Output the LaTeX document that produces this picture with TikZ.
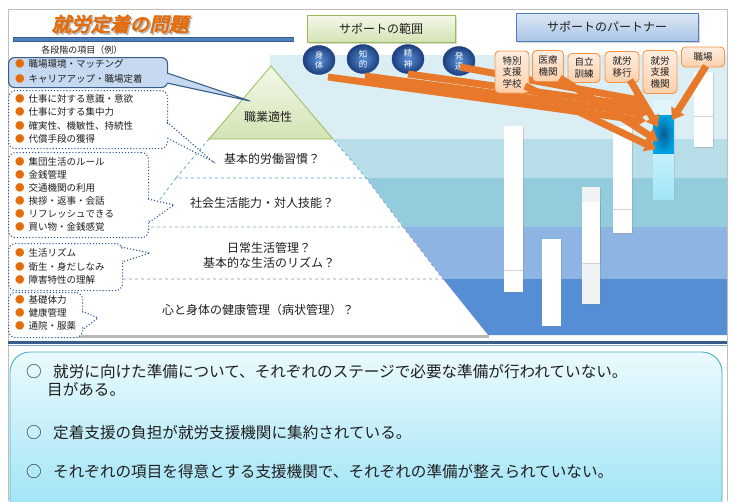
\documentclass[tikz,border=0pt]{standalone}
\usepackage{fontspec}
\setmainfont{Noto Sans CJK JP}
\newfontfamily\titlefont[FakeBold=4,FakeSlant=0.22]{Noto Sans CJK JP}
\usetikzlibrary{arrows.meta,shapes.geometric,shadows}
\definecolor{txt}{HTML}{202020}
\definecolor{ttlorange}{HTML}{E46C0A}
\definecolor{bul}{HTML}{E46C0A}
\definecolor{barblue}{HTML}{4F81BD}
\definecolor{bardark}{HTML}{385D8A}
\definecolor{boxone}{HTML}{C6D9F1}
\definecolor{dotc}{HTML}{2F5597}
\definecolor{bandA}{HTML}{DBEEF4}
\definecolor{bandB}{HTML}{B7DDE8}
\definecolor{bandC}{HTML}{93CDDD}
\definecolor{bandD}{HTML}{8EB4E3}
\definecolor{bandE}{HTML}{558ED5}
\definecolor{greenTop}{HTML}{F3F8E9}
\definecolor{greenBot}{HTML}{D3E3B3}
\definecolor{greenLine}{HTML}{9BBB59}
\definecolor{blueTop}{HTML}{DDE8F5}
\definecolor{blueBot}{HTML}{A9C4E8}
\definecolor{blueLine}{HTML}{4F81BD}
\definecolor{ballIn}{HTML}{5A8FD6}
\definecolor{ballOut}{HTML}{1C3F7E}
\definecolor{orTop}{HTML}{FDEDE0}
\definecolor{orBot}{HTML}{FBD0AC}
\definecolor{orLine}{HTML}{F79646}
\definecolor{arr}{HTML}{E8792A}
\definecolor{tgtIn}{HTML}{0A5C96}
\definecolor{tgtOut}{HTML}{00A2E2}
\definecolor{cyanA}{HTML}{E0F6FC}
\definecolor{cyanB}{HTML}{C5F1FB}
\definecolor{cyanC}{HTML}{A2E6F8}
\definecolor{sepA}{HTML}{4BACC6}
\definecolor{sepB}{HTML}{7F9FC8}
\definecolor{sepC}{HTML}{9C8AB8}
\definecolor{sumTop}{HTML}{EAFAFD}
\definecolor{sumBot}{HTML}{96E1F5}
\definecolor{sumLine}{HTML}{4BACC6}
\definecolor{colgray}{HTML}{F1F2F4}
\definecolor{frame}{HTML}{BFBFBF}
\newcommand\obul{{\color{bul}●}\hspace{4pt}}
\begin{document}
\begin{tikzpicture}[x=1pt,y=-1pt,
  every node/.style={inner sep=0pt, text=txt},
  pyt/.style={font=\fontsize{12}{15}\selectfont, align=center},
  lst/.style={anchor=west, align=left},
  cbox/.style={draw=dotc, dotted, line width=1.1pt, rounded corners=7pt, fill=white, anchor=north west},
  cboxone/.style={draw=bardark, line width=1.1pt, rounded corners=6pt, fill=boxone, anchor=north west},
  colbar/.style={fill=white, drop shadow={shadow xshift=1.2pt, shadow yshift=-1.2pt, opacity=0.3}},
  ball/.style={ellipse, minimum width=32pt, minimum height=29pt, inner color=ballIn, outer color=ballOut, draw=ballOut, line width=0.4pt, text=white, font=\fontsize{8.5}{10.5}\selectfont, align=center},
  pbox/.style={draw=orLine, line width=0.9pt, rounded corners=4pt, top color=orTop, bottom color=orBot, font=\fontsize{9.5}{11.5}\selectfont, align=center},
  oarr/.style={draw=arr, line width=7pt, -{Triangle[width=15pt,length=11pt]}},
  hdr/.style={font=\fontsize{12}{14}\selectfont, line width=0.8pt, drop shadow={shadow xshift=1.5pt, shadow yshift=-1.5pt, opacity=0.3}},
  sumtxt/.style={anchor=west, font=\fontsize{15.6}{18}\selectfont},
  dotwedge/.style={draw=dotc, dotted, line width=1.1pt},
]
\useasboundingbox (0,0) rectangle (734,501);
\fill[white] (0,0) rectangle (734,501);
\begin{scope}
\clip (0,0) rectangle (734,501);
% background bands
\fill[bandA] (270,55) -- (727,55) -- (727,139) -- (333,139) -- (271,66) -- (270,66) -- cycle;
\fill[bandB] (333,139) -- (727,139) -- (727,178) -- (366,178) -- cycle;
\fill[bandC] (366,178) -- (727,178) -- (727,227) -- (403,227) -- cycle;
\fill[bandD] (403,227) -- (727,227) -- (727,279) -- (443,279) -- cycle;
\fill[bandE] (443,279) -- (727,279) -- (727,335) -- (488,335) -- cycle;
% frame
\draw[frame, line width=1pt] (8,501) -- (8,9) -- (727,9) -- (727,501);
% columns
\path[colbar] (504,126) rectangle (523,292);
\draw[gray!35, line width=0.8pt] (504,270) -- (523,270);
\path[colbar] (542,239) rectangle (561,326);
\path[colbar, fill=colgray] (582,187) rectangle (600,304);
\path[colbar] (582,202) rectangle (600,263);
\path[colbar] (613,126) rectangle (632,233);
\draw[gray!35, line width=0.8pt] (613,209) -- (632,209);
\path[colbar] (694,72) rectangle (713,147);
\draw[gray!35, line width=0.8pt] (694,116) -- (713,116);
% target
\fill[cyanA] (653,100) rectangle (674,115);
\shade[top color=cyanB, bottom color=cyanC, drop shadow={shadow xshift=1pt, shadow yshift=-1pt, opacity=0.25}] (653,153) rectangle (674,199);
\node[minimum width=21pt, minimum height=38pt, inner color=tgtIn, outer color=tgtOut] (tgt) at (663.5,134) {};
% pyramid
\fill[white] (99,279) -- (443,279) -- (488,335) -- (54,335) -- cycle;
\fill[white] (139,227) -- (403,227) -- (443,279) -- (99,279) -- cycle;
\fill[white] (176,178) -- (366,178) -- (403,227) -- (139,227) -- cycle;
\fill[white] (209,139) -- (333,139) -- (366,178) -- (176,178) -- cycle;
\shade[top color=greenTop, bottom color=greenBot, draw=greenLine, line width=0.8pt] (271,66) -- (333,139) -- (209,139) -- cycle;
\draw[sepA, dashed, line width=0.7pt] (209,139) -- (176,178) -- (366,178) -- (333,139);
\draw[sepA, dashed, line width=0.7pt] (176,178) -- (139,227);
\draw[sepB, dashed, line width=0.7pt] (139,227) -- (403,227) -- (366,178);
\draw[sepC, dashed, line width=0.7pt] (99,279) -- (443,279) -- (403,227);
\draw[sepC, densely dotted, line width=0.6pt] (443,279) -- (488,335);
\draw[gray!55, line width=2.5pt] (54,336.5) -- (489,336.5);
\node[pyt] (t1) at (268,117) {職業適性};
\node[pyt] (t2) at (272,159) {基本的労働習慣？};
\node[pyt] (t3) at (262,203) {社会生活能力・対人技能？};
\node[pyt] (t4) at (269,255.5) {日常生活管理？\\基本的な生活のリズム？};
\node[pyt] (t5) at (258,310) {心と身体の健康管理（病状管理）？};
% left callouts
\node[cboxone, minimum width=159pt, minimum height=30pt] (b1) at (8,57) {};
\fill[boxone] (164,73) -- (250,101) -- (164,83) -- cycle;
\draw[bardark, line width=1.1pt] (167,73) -- (250,101) -- (167,83);
\node[lst, font=\fontsize{9.5}{15}\selectfont] (b1t) at (15,71.5) {\obul 職場環境・マッチング\\\obul キャリアアップ・職場定着};

\node[cbox, minimum width=159pt, minimum height=58pt] (b2) at (8,90) {};
\fill[white] (163,122) -- (212,161) -- (163,138) -- cycle;
\draw[dotwedge] (167,122) -- (212,161) -- (167,138);
\node[lst, font=\fontsize{9.5}{13.3}\selectfont] (b2t) at (15,119) {\obul 仕事に対する意識・意欲\\\obul 仕事に対する集中力\\\obul 確実性、機敏性、持続性\\\obul 代償手段の獲得};

\node[cbox, minimum width=140pt, minimum height=85pt] (b3) at (8,152) {};
\fill[white] (144,199) -- (174,205) -- (144,223) -- cycle;
\draw[dotwedge] (148,199) -- (174,205) -- (148,223);
\node[lst, font=\fontsize{9.5}{13}\selectfont] (b3t) at (15,194.5) {\obul 集団生活のルール\\\obul 金銭管理\\\obul 交通機関の利用\\\obul 挨拶・返事・会話\\\obul リフレッシュできる\\\obul 買い物・金銭感覚};

\node[cbox, minimum width=114pt, minimum height=47pt] (b4) at (8,243) {};
\fill[white] (117,248) -- (150,253) -- (117,262) -- cycle;
\draw[dotwedge] (121,247) -- (150,253) -- (122,262);
\node[lst, font=\fontsize{9.5}{13.5}\selectfont] (b4t) at (15,266.5) {\obul 生活リズム\\\obul 衛生・身だしなみ\\\obul 障害特性の理解};

\node[cbox, minimum width=74pt, minimum height=45pt] (b5) at (8,292) {};
\fill[white] (78,311) -- (98,318) -- (78,330) -- cycle;
\draw[dotwedge] (82,311) -- (98,318) -- (82,330);
\node[lst, font=\fontsize{9.5}{13}\selectfont] (b5t) at (15,313) {\obul 基礎体力\\\obul 健康管理\\\obul 通院・服薬};

% circles
\node[ball] (c1) at (319,60) {身\\体};
\node[ball] (c2) at (363,59) {知\\的};
\node[ball] (c3) at (408,59) {精\\神};
\node[ball] (c4) at (459,61) {発\\達};
% arrow ends
\coordinate (e1) at (646,121);
\coordinate (e2) at (648,114);
\coordinate (e3) at (646,107);
\coordinate (e4) at (644,101);
\coordinate (e5) at (656,149);
\coordinate (e6) at (658,141);
\coordinate (e7) at (658,127);
\coordinate (e8) at (672,120);
\draw[oarr] ([shift={(9,17)}]c1.center) -- (e1);
\draw[oarr] ([shift={(2,17)}]c2.center) -- (e2);
\draw[oarr] ([shift={(0,15)}]c3.center) -- (e3);
\draw[oarr] ([shift={(1,6)}]c4.center) -- (e4);
% partner boxes
\node[pbox, minimum width=34pt, minimum height=42pt] (p1) at (512,72) {特別\\支援\\学校};
\node[pbox, minimum width=31pt, minimum height=31pt] (p2) at (548,66) {医療\\機関};
\node[pbox, minimum width=32pt, minimum height=29pt] (p3) at (584,68) {自立\\訓練};
\node[pbox, minimum width=34pt, minimum height=31pt] (p4) at (622,67) {就労\\移行};
\node[pbox, minimum width=34pt, minimum height=43pt] (p5) at (660,72) {就労\\支援\\機関};
\node[pbox, minimum width=43pt, minimum height=20pt] (p6) at (703,57) {職場};
\draw[oarr] ([shift={(13,14)}]p1.center) -- (e5);
\draw[oarr] ([shift={(12,12)}]p2.center) -- (e6);
\draw[oarr] ([shift={(8,13)}]p4.center) -- (e7);
\draw[oarr] ([shift={(3,9)}]p6.center) -- (e8);
% headers
\node[hdr, draw=greenLine, top color=greenTop, bottom color=greenBot, minimum width=148pt, minimum height=27pt] (scope) at (381,29) {サポートの範囲};
\node[hdr, draw=blueLine, top color=blueTop, bottom color=blueBot, minimum width=182pt, minimum height=28pt] (partner) at (607,27) {サポートのパートナー};
% title
\node[font=\titlefont\fontsize{19.5}{22}\selectfont, text=gray!55] (ttlsh) at (121.5,25.5) {就労定着の問題};
\node[font=\titlefont\fontsize{19.5}{22}\selectfont, text=ttlorange] (ttl) at (120,24) {就労定着の問題};
\draw[bardark, line width=5pt] (13,39) -- (294,39);
\draw[barblue, line width=3pt] (13.5,39) -- (293.5,39);
\node[font=\fontsize{9}{11}\selectfont] (sub) at (82,50) {各段階の項目（例）};
% bottom
\draw[bardark, line width=3.5pt] (8,342.5) -- (727,342.5);
\draw[barblue!70, line width=1pt] (8,345) -- (727,345);
\shade[top color=sumTop, bottom color=sumBot, draw=sumLine, line width=0.9pt, rounded corners=20pt] (10,352) rectangle (722,530);
\node[sumtxt] (m1) at (26,372) {○};
\node[sumtxt] (l1) at (53,372) {就労に向けた準備について、それぞれのステージで必要な準備が行われていない。};
\node[sumtxt] (l2) at (47,389) {目がある。};
\node[sumtxt] (m3) at (26,433) {○};
\node[sumtxt] (l3) at (53,433) {定着支援の負担が就労支援機関に集約されている。};
\node[sumtxt] (m4) at (26,472) {○};
\node[sumtxt] (l4) at (53,472) {それぞれの項目を得意とする支援機関で、それぞれの準備が整えられていない。};
\end{scope}
\end{tikzpicture}
\end{document}
